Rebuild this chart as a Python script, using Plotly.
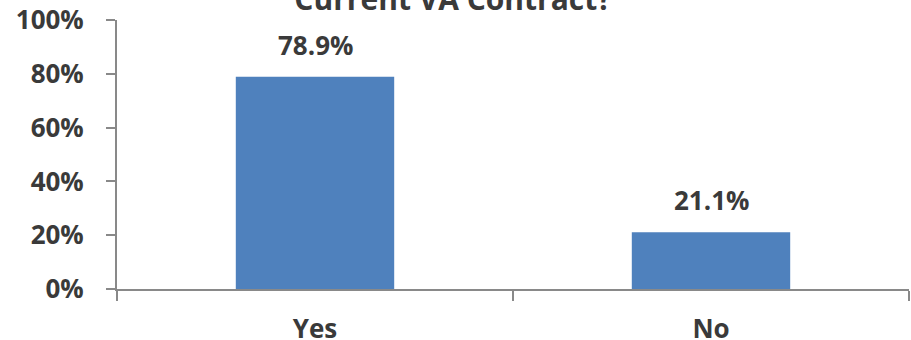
import plotly.graph_objects as go

categories = ["Yes", "No"]
values = [78.9, 21.1]
label_texts = ["78.9%", "21.1%"]
tick_vals = [0, 20, 40, 60, 80, 100]
tick_text = ["0%", "20%", "40%", "60%", "80%", "100%"]
title_text = "Current VA Contract?"

FONT = "Open Sans"
TXT = "#3a3a3a"
AX = "#898989"
FS = 26

fig = go.Figure(go.Bar(x=categories, y=values, marker=dict(color="#4f81bd", line=dict(width=0)),
                       hoverinfo="skip"))

for c, v, t in zip(categories, values, label_texts):
    fig.add_annotation(x=c, y=v, text="<b>" + t + "</b>", showarrow=False,
                       yanchor="bottom", yshift=12,
                       font=dict(family=FONT, size=FS, color=TXT))

fig.update_layout(
    width=911, height=340,
    margin=dict(l=117, r=2, t=20, b=51),
    paper_bgcolor="white", plot_bgcolor="white",
    bargap=0.6,
    showlegend=False,
    title=dict(text="<b>" + title_text + "</b>", x=453 / 911, xanchor="center",
               y=1 - 10 / 340, yanchor="bottom", yref="container",
               font=dict(family=FONT, size=30, color=TXT)),
    font=dict(family=FONT, color=TXT),
)
fig.update_yaxes(range=[0, 100], tickvals=tick_vals, ticktext=["<b>%s</b>" % s for s in tick_text],
                 showgrid=False, zeroline=False, showline=True, linecolor=AX, linewidth=2,
                 ticks="outside", ticklen=9, tickcolor=AX, tickwidth=2, automargin=False,
                 tickfont=dict(family=FONT, size=FS, color=TXT), ticklabelstandoff=17)
fig.update_xaxes(showgrid=False, showline=True, linecolor=AX, linewidth=2, automargin=False,
                 ticks="outside", ticklen=10, tickcolor=AX, tickwidth=2, tickson="boundaries",
                 tickvals=categories, ticktext=["<b>%s</b>" % c for c in categories],
                 tickfont=dict(family=FONT, size=FS, color=TXT), ticklabelstandoff=16)

fig.write_html("out.html", config={"displayModeBar": False},
               post_script="document.body.style.margin='0';")
